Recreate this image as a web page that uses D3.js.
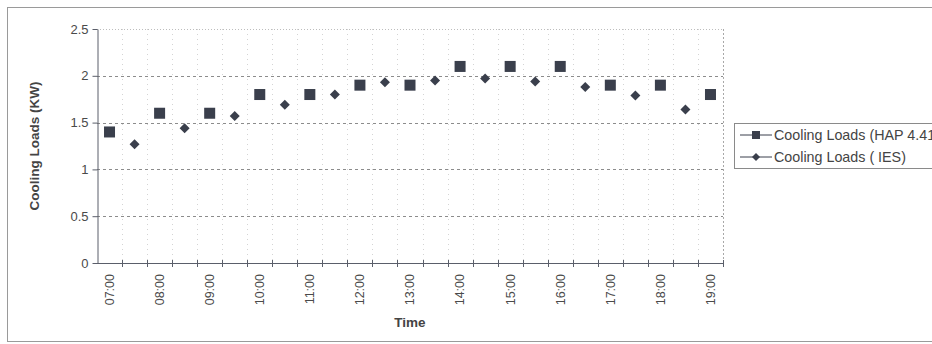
<!DOCTYPE html>
<html>
<head>
<meta charset="utf-8">
<script src="https://cdn.jsdelivr.net/npm/d3@7"></script>
<style>
  html, body { margin: 0; padding: 0; background: #ffffff; }
  svg { display: block; font-family: "Liberation Sans", Arial, sans-serif; }
</style>
</head>
<body>
<svg id="chart" width="932" height="344"></svg>
<script>
// Half-hourly time categories along the x axis
const timeSlots = ["07:00","07:30","08:00","08:30","09:00","09:30","10:00","10:30",
  "11:00","11:30","12:00","12:30","13:00","13:30","14:00","14:30","15:00","15:30",
  "16:00","16:30","17:00","17:30","18:00","18:30","19:00"];

// HAP 4.41 results (on the hour)
const hapTimes = ["07:00","08:00","09:00","10:00","11:00","12:00","13:00","14:00","15:00","16:00","17:00","18:00","19:00"];
const hapLoads = [1.4, 1.6, 1.6, 1.8, 1.8, 1.9, 1.9, 2.1, 2.1, 2.1, 1.9, 1.9, 1.8];

// IES results (on the half hour)
const iesTimes = ["07:30","08:30","09:30","10:30","11:30","12:30","13:30","14:30","15:30","16:30","17:30","18:30"];
const iesLoads = [1.27, 1.44, 1.57, 1.69, 1.8, 1.93, 1.95, 1.97, 1.94, 1.88, 1.79, 1.64];

const yTicks = [0, 0.5, 1, 1.5, 2, 2.5];
const xLabels = timeSlots.filter((d, i) => i % 2 === 0);
const seriesNames = ["Cooling Loads (HAP 4.41)", "Cooling Loads ( IES)"];

const svg = d3.select("#chart");
const plot = { left: 97, right: 723, top: 29, bottom: 263 };
const ink = "#3a3f4c";

// outer chart frame
svg.append("rect")
  .attr("x", 7.5).attr("y", 7.5).attr("width", 960).attr("height", 334)
  .attr("fill", "none").attr("stroke", "#9a9a9a").attr("stroke-width", 1);

const x = d3.scaleBand().domain(timeSlots).range([plot.left, plot.right]).padding(0);
const xEdge = d3.scaleLinear().domain([0, timeSlots.length]).range([plot.left, plot.right]);
const y = d3.scaleLinear().domain([0, 2.5]).range([plot.bottom, plot.top]);

// vertical gridlines at category boundaries
svg.append("g").selectAll("line")
  .data(d3.range(1, timeSlots.length + 1))
  .join("line")
  .attr("x1", d => Math.round(xEdge(d)) + 0.5).attr("x2", d => Math.round(xEdge(d)) + 0.5)
  .attr("y1", plot.top).attr("y2", plot.bottom)
  .attr("stroke", d => d === timeSlots.length ? "#a8a8a8" : "#d4d4d4")
  .attr("stroke-width", 1)
  .attr("stroke-dasharray", d => d === timeSlots.length ? "2,2" : "1,4");

// horizontal gridlines
svg.append("g").selectAll("line")
  .data(yTicks.filter(v => v > 0))
  .join("line")
  .attr("x1", plot.left).attr("x2", plot.right)
  .attr("y1", d => Math.round(y(d)) + 0.5).attr("y2", d => Math.round(y(d)) + 0.5)
  .attr("stroke", d => d === 2.5 ? "#bdbdbd" : "#8c8c8c")
  .attr("stroke-width", 1)
  .attr("stroke-dasharray", d => d === 2.5 ? "1,2" : "3,3");

// y axis
const yAxis = svg.append("g")
  .attr("transform", `translate(${plot.left + 0.5},0)`)
  .call(d3.axisLeft(y).tickValues(yTicks).tickSize(5).tickSizeOuter(0)
    .tickFormat(d => d3.format("")(d)));
yAxis.select(".domain").attr("stroke", "#5a5e6a");
yAxis.selectAll(".tick line").attr("stroke", "#5a5e6a");
yAxis.selectAll(".tick text")
  .attr("x", -9).attr("font-size", 13).attr("fill", "#4a4a4a")
  .attr("font-family", "'Liberation Sans', Arial, sans-serif");

// x axis: boundary tick marks crossing the axis line
svg.append("line")
  .attr("x1", plot.left).attr("x2", plot.right + 1)
  .attr("y1", plot.bottom + 0.5).attr("y2", plot.bottom + 0.5)
  .attr("stroke", "#5a5e6a");
svg.append("g").selectAll("line")
  .data(d3.range(1, timeSlots.length + 1))
  .join("line")
  .attr("x1", d => Math.round(xEdge(d)) + 0.5).attr("x2", d => Math.round(xEdge(d)) + 0.5)
  .attr("y1", plot.bottom - 3).attr("y2", plot.bottom + 4)
  .attr("stroke", "#5a5e6a");

// x axis labels (every other category)
const xAxis = svg.append("g")
  .attr("transform", `translate(0,${plot.bottom})`)
  .call(d3.axisBottom(x).tickValues(xLabels).tickSize(0));
xAxis.select(".domain").remove();
xAxis.selectAll(".tick text")
  .attr("transform", "rotate(-90)")
  .attr("text-anchor", "end")
  .attr("x", -11).attr("y", 0).attr("dy", "0.35em")
  .attr("font-size", 12.5).attr("fill", "#4a4a4a")
  .attr("font-family", "'Liberation Sans', Arial, sans-serif");

// axis titles
svg.append("text")
  .attr("transform", `translate(39,${(plot.top + plot.bottom) / 2}) rotate(-90)`)
  .attr("text-anchor", "middle")
  .attr("font-size", 13.5).attr("font-weight", "bold").attr("fill", "#444")
  .text("Cooling Loads (KW)");
svg.append("text")
  .attr("x", (plot.left + plot.right) / 2).attr("y", 327)
  .attr("text-anchor", "middle")
  .attr("font-size", 13.5).attr("font-weight", "bold").attr("fill", "#444")
  .text("Time");

// markers
const sq = 11;
svg.append("g").selectAll("rect")
  .data(hapTimes.map((t, i) => ({ t, v: hapLoads[i] })))
  .join("rect")
  .attr("x", d => x(d.t) + x.bandwidth() / 2 - sq / 2)
  .attr("y", d => y(d.v) - sq / 2)
  .attr("width", sq).attr("height", sq)
  .attr("fill", ink);

const diamond = d3.symbol().type(d3.symbolSquare).size(50);
svg.append("g").selectAll("path")
  .data(iesTimes.map((t, i) => ({ t, v: iesLoads[i] })))
  .join("path")
  .attr("d", diamond)
  .attr("transform", d => `translate(${x(d.t) + x.bandwidth() / 2},${y(d.v)}) rotate(45)`)
  .attr("fill", ink);

// legend
const legend = svg.append("g");
legend.append("rect")
  .attr("x", 734.5).attr("y", 123.5).attr("width", 260).attr("height", 45)
  .attr("fill", "#fff").attr("stroke", "#8a8a8a");
const rows = [135, 157];
rows.forEach((ry, i) => {
  legend.append("line")
    .attr("x1", 740).attr("x2", 772).attr("y1", ry).attr("y2", ry)
    .attr("stroke", ink).attr("stroke-width", 1);
  if (i === 0) {
    legend.append("rect").attr("x", 752).attr("y", ry - 4).attr("width", 8).attr("height", 8).attr("fill", ink);
  } else {
    legend.append("path").attr("d", d3.symbol().type(d3.symbolSquare).size(32))
      .attr("transform", `translate(756,${ry}) rotate(45)`).attr("fill", ink);
  }
  legend.append("text")
    .attr("x", 774).attr("y", ry).attr("dy", "0.35em")
    .attr("font-size", 14.3).attr("fill", "#444")
    .text(seriesNames[i]);
});
</script>
</body>
</html>
